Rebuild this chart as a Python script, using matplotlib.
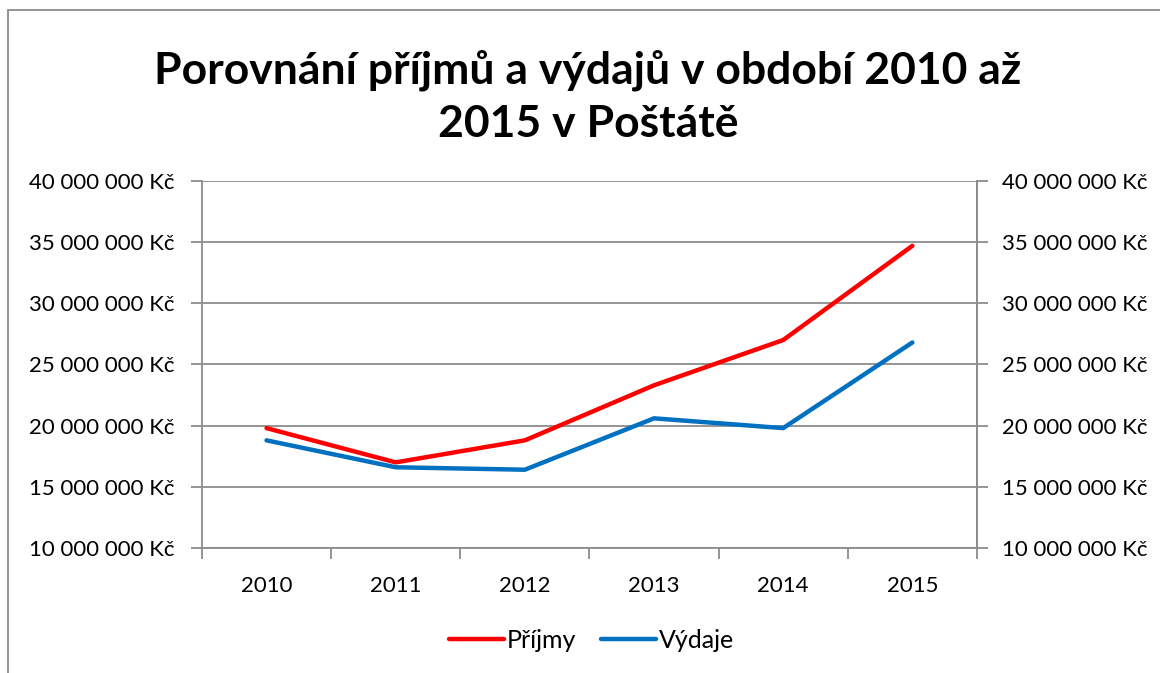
import numpy as np
import matplotlib
import matplotlib.pyplot as plt
from matplotlib.patches import Rectangle
from matplotlib.ticker import FuncFormatter

matplotlib.use("Agg")

plt.rcParams['font.family'] = ['Lato', 'DejaVu Sans']

years = ['2010', '2011', '2012', '2013', '2014', '2015']
prijmy = [19.8e6, 17.0e6, 18.8e6, 23.3e6, 27.0e6, 34.7e6]
vydaje = [18.8e6, 16.6e6, 16.4e6, 20.6e6, 19.8e6, 26.8e6]

grid_color = '#8c8c8c'


def kc(v, pos):
    return '{:,.0f} Kč'.format(v).replace(',', ' ')


fig = plt.figure(figsize=(11.6, 6.73), dpi=100)
ax = fig.add_axes([0.1741, 0.1857, 0.6681, 0.5454])

x = np.arange(len(years))
ax.plot(x, prijmy, color='#ff0000', lw=3.2, solid_capstyle='round', label='Příjmy')
ax.plot(x, vydaje, color='#0070c0', lw=3.2, solid_capstyle='round', label='Výdaje')

ax.set_xlim(-0.5, len(years) - 0.5)
ax.set_ylim(10e6, 40e6)
ax.set_yticks(np.arange(10e6, 40e6 + 1, 5e6))
ax.yaxis.set_major_formatter(FuncFormatter(kc))
ax.grid(axis='y', color=grid_color, lw=1.3)
ax.set_axisbelow(True)

# category labels centred, tick marks on the boundaries
ax.set_xticks(x)
ax.set_xticklabels(years, fontsize=16)
ax.set_xticks(np.arange(-0.5, len(years)), minor=True)
ax.tick_params(axis='x', which='major', length=0, pad=20)
ax.tick_params(axis='x', which='minor', length=8, width=1.3, color=grid_color)
ax.tick_params(axis='y', length=8, width=1.3, color=grid_color, labelsize=16, pad=12)

ax.spines['top'].set_visible(False)
for s in ['left', 'right', 'bottom']:
    ax.spines[s].set_color(grid_color)
    ax.spines[s].set_linewidth(1.3)

ax2 = ax.twinx()
ax2.set_ylim(ax.get_ylim())
ax2.set_yticks(ax.get_yticks())
ax2.yaxis.set_major_formatter(FuncFormatter(kc))
ax2.tick_params(axis='y', length=8, width=1.3, color=grid_color, labelsize=16, pad=10)
for s in ['top', 'left', 'bottom']:
    ax2.spines[s].set_visible(False)
ax2.spines['right'].set_color(grid_color)
ax2.spines['right'].set_linewidth(1.3)

fig.text(0.507, 0.856, 'Porovnání příjmů a výdajů v období 2010 až\n2015 v Poštátě',
         ha='center', va='center', fontsize=32, fontweight='bold', linespacing=1.38)

fig.legend(loc='center', bbox_to_anchor=(0.51, 0.048), ncol=2, frameon=False,
           fontsize=18, handlelength=2.2, handletextpad=0.1, columnspacing=1.0)

# chart border (cut off on the right and bottom)
fig.patches.append(Rectangle((8 / 1160, -0.05), 1.2, 1 - 10 / 673 + 0.05,
                             transform=fig.transFigure, fill=False,
                             edgecolor='#8c8c8c', lw=1.3))

fig.savefig('out.png', dpi=100)
